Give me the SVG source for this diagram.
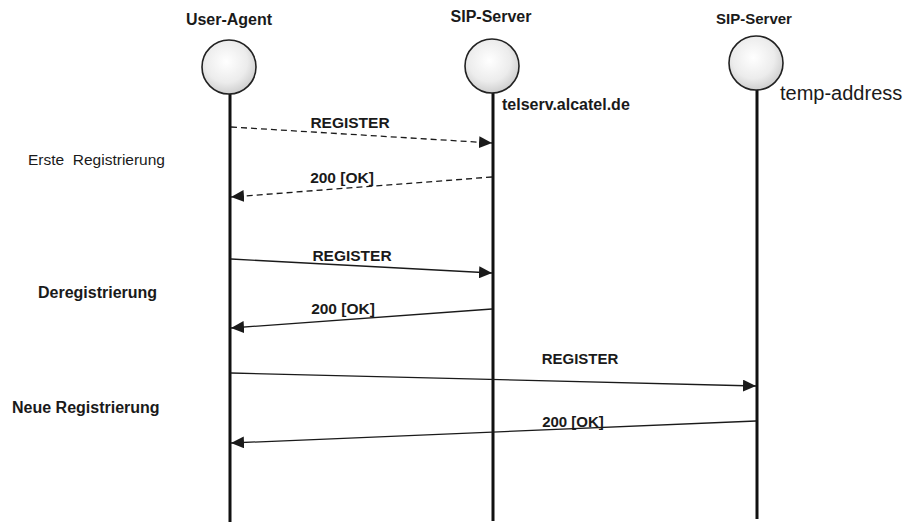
<svg xmlns="http://www.w3.org/2000/svg" width="915" height="522" viewBox="0 0 915 522">
<style>
  .title { font-family: "Liberation Sans", Arial, sans-serif; font-weight: bold; fill: #1a1a1a; }
  .lbl { font-family: "Liberation Sans", Arial, sans-serif; fill: #1a1a1a; }
  .b { font-weight: bold; }
  .life { stroke: #111; stroke-width: 3; fill: none; }
  .head { fill: url(#shade); stroke: #222; stroke-width: 1.6; }
  .msg { stroke: #1a1a1a; stroke-width: 1.3; fill: none; marker-end: url(#arr); }
  .dash { stroke-dasharray: 6 4; }
</style>
<defs>
  <radialGradient id="shade" cx="0.45" cy="0.4" r="0.65">
    <stop offset="0" stop-color="#ffffff"/>
    <stop offset="0.6" stop-color="#ececec"/>
    <stop offset="1" stop-color="#c8c8c8"/>
  </radialGradient>
  <marker id="arr" markerUnits="userSpaceOnUse" markerWidth="14" markerHeight="12" viewBox="0 0 14 12" refX="13" refY="6" orient="auto">
    <path d="M0,0 L13,6 L0,12 Z" fill="#1a1a1a"/>
  </marker>
</defs>
<rect width="915" height="522" fill="#ffffff"/>

<g id="user-agent">
  <text class="title" x="229" y="25" font-size="16" text-anchor="middle">User-Agent</text>
  <line class="life" x1="230" y1="94" x2="230" y2="522"/>
  <circle class="head" cx="229" cy="67" r="27"/>
</g>

<g id="sip-server-1">
  <text class="title" x="491" y="22" font-size="16" text-anchor="middle">SIP-Server</text>
  <line class="life" x1="493" y1="92" x2="493" y2="521"/>
  <circle class="head" cx="492" cy="66" r="27"/>
  <text class="title" x="502" y="110" font-size="16">telserv.alcatel.de</text>
</g>

<g id="sip-server-2">
  <text class="title" x="754" y="24" font-size="15" text-anchor="middle">SIP-Server</text>
  <line class="life" x1="757" y1="89" x2="757" y2="519"/>
  <circle class="head" cx="756" cy="63" r="27"/>
  <text class="lbl" x="780" y="100" font-size="20">temp-address</text>
</g>

<g id="phase-labels">
  <text class="lbl" x="28" y="165" font-size="15.5" xml:space="preserve">Erste  Registrierung</text>
  <text class="lbl b" x="38" y="298" font-size="16">Deregistrierung</text>
  <text class="lbl b" x="12" y="413" font-size="16">Neue Registrierung</text>
</g>

<g id="connectors">
  <line class="msg dash" x1="231" y1="127" x2="492" y2="143"/>
  <text class="lbl b" x="350" y="128" font-size="15.5" text-anchor="middle">REGISTER</text>

  <line class="msg dash" x1="492" y1="177" x2="231" y2="197"/>
  <text class="lbl b" x="342" y="183" font-size="15.5" text-anchor="middle">200 [OK]</text>

  <line class="msg" x1="231" y1="259" x2="492" y2="273"/>
  <text class="lbl b" x="352" y="261" font-size="15.5" text-anchor="middle">REGISTER</text>

  <line class="msg" x1="492" y1="309" x2="231" y2="328"/>
  <text class="lbl b" x="343" y="314" font-size="15.5" text-anchor="middle">200 [OK]</text>

  <line class="msg" x1="231" y1="373" x2="756" y2="386"/>
  <text class="lbl b" x="580" y="364" font-size="15" text-anchor="middle">REGISTER</text>

  <line class="msg" x1="756" y1="421" x2="231" y2="443"/>
  <text class="lbl b" x="573" y="427" font-size="15" text-anchor="middle">200 [OK]</text>
</g>
</svg>
